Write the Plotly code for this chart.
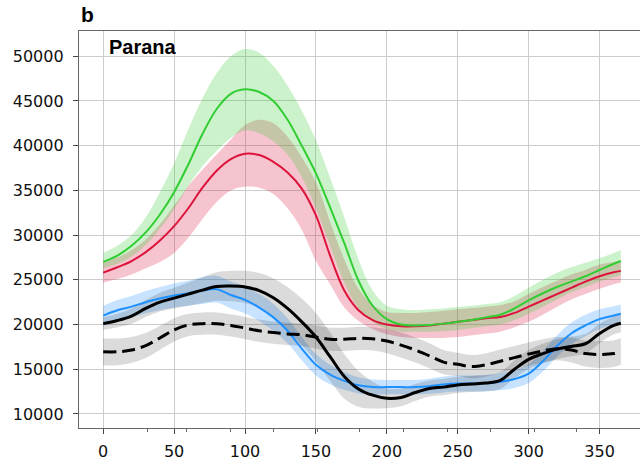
import plotly.graph_objects as go

days = [0, 10, 20, 30, 40, 50, 60, 70, 80, 90, 100, 110, 120, 130, 140, 150, 160, 170, 180,
        190, 200, 210, 220, 230, 240, 250, 260, 270, 280, 290, 300, 310, 320, 330, 340, 350, 360, 365]

green_mean = [27000, 27700, 28800, 30300, 32300, 34800, 37900, 41300, 44100, 45800, 46300, 46000, 45000,
              42900, 40000, 36900, 33100, 29100, 24900, 22100, 20600, 20000, 19900, 19950, 20100, 20300,
              20500, 20800, 21100, 21800, 22700, 23500, 24200, 24800, 25400, 26100, 26800, 27100]
green_upper = [28000, 28800, 30000, 32000, 34800, 38000, 41800, 45300, 48100, 50000, 50800, 50400, 48900,
               46700, 43900, 40600, 36400, 32000, 27300, 23800, 22100, 21700, 21600, 21700, 21800, 21950,
               22100, 22300, 22500, 23200, 24100, 25000, 25800, 26400, 26900, 27400, 28000, 28300]
green_lower = [26300, 26800, 27600, 28900, 30700, 32900, 35500, 37700, 39400, 40900, 41700, 41400, 40500,
               39000, 36500, 33000, 28800, 24700, 21800, 20300, 19500, 19200, 19200, 19200, 19250, 19400,
               19600, 19800, 20000, 20500, 21200, 22000, 22800, 23600, 24200, 24800, 25300, 25500]

red_mean = [25800, 26400, 27100, 28100, 29400, 31000, 33000, 35300, 37200, 38500, 39100, 38950, 38200,
            37000, 35200, 32200, 27700, 23800, 21600, 20500, 20000, 19800, 19800, 19900, 20100, 20300,
            20500, 20700, 20850, 21300, 22000, 22700, 23400, 24100, 24800, 25400, 25850, 26000]
red_upper = [26900, 27500, 28300, 29500, 31200, 33300, 35500, 37300, 39000, 40700, 42300, 42900, 42500,
             41000, 38700, 35900, 31500, 27300, 24000, 22200, 21400, 21300, 21300, 21400, 21550, 21700,
             21850, 22000, 22150, 22600, 23400, 24200, 24900, 25600, 26100, 26700, 27000, 27100]
red_lower = [24700, 25100, 25600, 26300, 27000, 28000, 29700, 31800, 33700, 35000, 35400, 35300, 34600,
             33000, 30600, 27100, 24500, 21900, 20400, 19500, 18900, 18600, 18500, 18500, 18500, 18600,
             18800, 19000, 19200, 19700, 20300, 21100, 22000, 22800, 23400, 24000, 24500, 24700]

blue_mean = [21000, 21600, 22000, 22500, 22900, 23250, 23500, 23800, 23950, 23300, 22750, 21900, 20800,
             19300, 17300, 15500, 14400, 13700, 13200, 13000, 13000, 13000, 13000, 13100, 13300, 13400,
             13400, 13450, 13600, 13900, 14500, 15900, 17600, 19000, 19900, 20600, 21000, 21200]
blue_spread = [1100, 1150, 1200, 1250, 1300, 1350, 1400, 1500, 1500, 1500, 1500, 1500, 1500,
               1400, 1300, 1200, 1100, 1000, 900, 850, 800, 800, 800, 850, 900, 900,
               900, 900, 950, 1000, 1050, 1150, 1200, 1200, 1200, 1100, 1050, 1000]

black_mean = [20100, 20450, 20950, 21800, 22500, 22950, 23400, 23850, 24250, 24300, 24200, 23800, 23000,
              21800, 20300, 18600, 16400, 14200, 12800, 12100, 11750, 11850, 12400, 12850, 13000, 13250,
              13350, 13450, 13750, 15000, 16100, 16750, 17250, 17550, 17850, 19000, 19900, 20150]
black_spread = [700, 750, 850, 950, 1050, 1150, 1300, 1450, 1600, 1700, 1800, 1950, 2150,
                2400, 2600, 2700, 2700, 2500, 2000, 1500, 1100, 1000, 950, 900, 900, 900,
                900, 900, 950, 1000, 1050, 1100, 1100, 1100, 1100, 1100, 1000, 1000]

dashed_mean = [16950, 16950, 17150, 17650, 18500, 19400, 19950, 20100, 20100, 19900, 19600, 19300, 19100,
               18950, 18850, 18600, 18350, 18350, 18450, 18400, 18150, 17700, 17150, 16500, 15800, 15550,
               15300, 15500, 15900, 16300, 16700, 17050, 17300, 17150, 16750, 16650, 16750, 17000]
dashed_spread = [1500, 1500, 1450, 1400, 1350, 1300, 1250, 1250, 1250, 1250, 1250, 1250, 1250,
                 1250, 1250, 1300, 1300, 1300, 1300, 1300, 1350, 1400, 1400, 1400, 1350, 1300,
                 1300, 1300, 1300, 1300, 1300, 1300, 1300, 1400, 1450, 1500, 1500, 1500]

month_ticks = [31, 59, 90, 120, 151, 181, 212, 243, 273, 304, 334]
y_ticks = [10000, 15000, 20000, 25000, 30000, 35000, 40000, 45000, 50000]
x_ticks = [0, 50, 100, 150, 200, 250, 300, 350]

GREEN = "rgb(50,205,50)"
RED = "rgb(220,20,60)"
BLUE = "rgb(30,144,255)"
BLACK = "rgb(0,0,0)"
SMOOTH = 1.0

fig = go.Figure()


def band(lower, upper, fillcolor):
    fig.add_trace(go.Scatter(x=days, y=lower, mode="lines",
                             line=dict(width=0, shape="spline", smoothing=SMOOTH),
                             hoverinfo="skip", showlegend=False))
    fig.add_trace(go.Scatter(x=days, y=upper, mode="lines",
                             line=dict(width=0, shape="spline", smoothing=SMOOTH),
                             fill="tonexty", fillcolor=fillcolor, hoverinfo="skip", showlegend=False))


def sym(mean, spread, sign):
    return [m + sign * s for m, s in zip(mean, spread)]


band(red_lower, red_upper, "rgba(220,20,60,0.25)")
band(green_lower, green_upper, "rgba(50,205,50,0.25)")
band(sym(blue_mean, blue_spread, -1), sym(blue_mean, blue_spread, 1), "rgba(30,144,255,0.25)")
band(sym(black_mean, black_spread, -1), sym(black_mean, black_spread, 1), "rgba(0,0,0,0.14)")
band(sym(dashed_mean, dashed_spread, -1), sym(dashed_mean, dashed_spread, 1), "rgba(0,0,0,0.14)")


def line(y, color, width, dash="solid"):
    fig.add_trace(go.Scatter(x=days, y=y, mode="lines",
                             line=dict(color=color, width=width, dash=dash, shape="spline", smoothing=SMOOTH),
                             showlegend=False))


line(red_mean, RED, 2)
line(green_mean, GREEN, 2)
line(blue_mean, BLUE, 2)
line(black_mean, BLACK, 3)
line(dashed_mean, BLACK, 3, dash="13px,6px")

axis_common = dict(
    showgrid=True, gridcolor="#cccccc", gridwidth=1.2, zeroline=False,
    showline=True, linecolor="#666666", linewidth=1.3,
    ticks="outside", ticklen=5, tickwidth=1.2, tickcolor="#444444",
    tickfont=dict(family="DejaVu Sans", size=16, color="#111111"),
)

fig.update_xaxes(range=[-17.06, 378.5], tickvals=x_ticks, mirror=True, ticklabelstandoff=4,
                 minor=dict(tickmode="array", tickvals=month_ticks, ticks="outside", ticklen=3,
                            tickwidth=1, tickcolor="#666666", showgrid=False),
                 **axis_common)
fig.update_yaxes(range=[8429, 52824], tickvals=y_ticks, tickformat="d", ticklabelstandoff=6, **axis_common)

fig.add_annotation(text="<b>b</b>", xref="paper", yref="paper", x=0, y=1, xanchor="left", yanchor="bottom",
                   yshift=3, showarrow=False, font=dict(family="Liberation Sans", size=21, color="black"))
fig.add_annotation(text="<b>Parana</b>", xref="paper", yref="paper", x=0.05, y=0.993, xanchor="left",
                   yanchor="top", showarrow=False, font=dict(family="Liberation Sans", size=20, color="black"))

fig.update_layout(width=640, height=461, margin=dict(l=79, r=0, t=31, b=26),
                  plot_bgcolor="white", paper_bgcolor="white", showlegend=False)

fig.write_html("out.html")
